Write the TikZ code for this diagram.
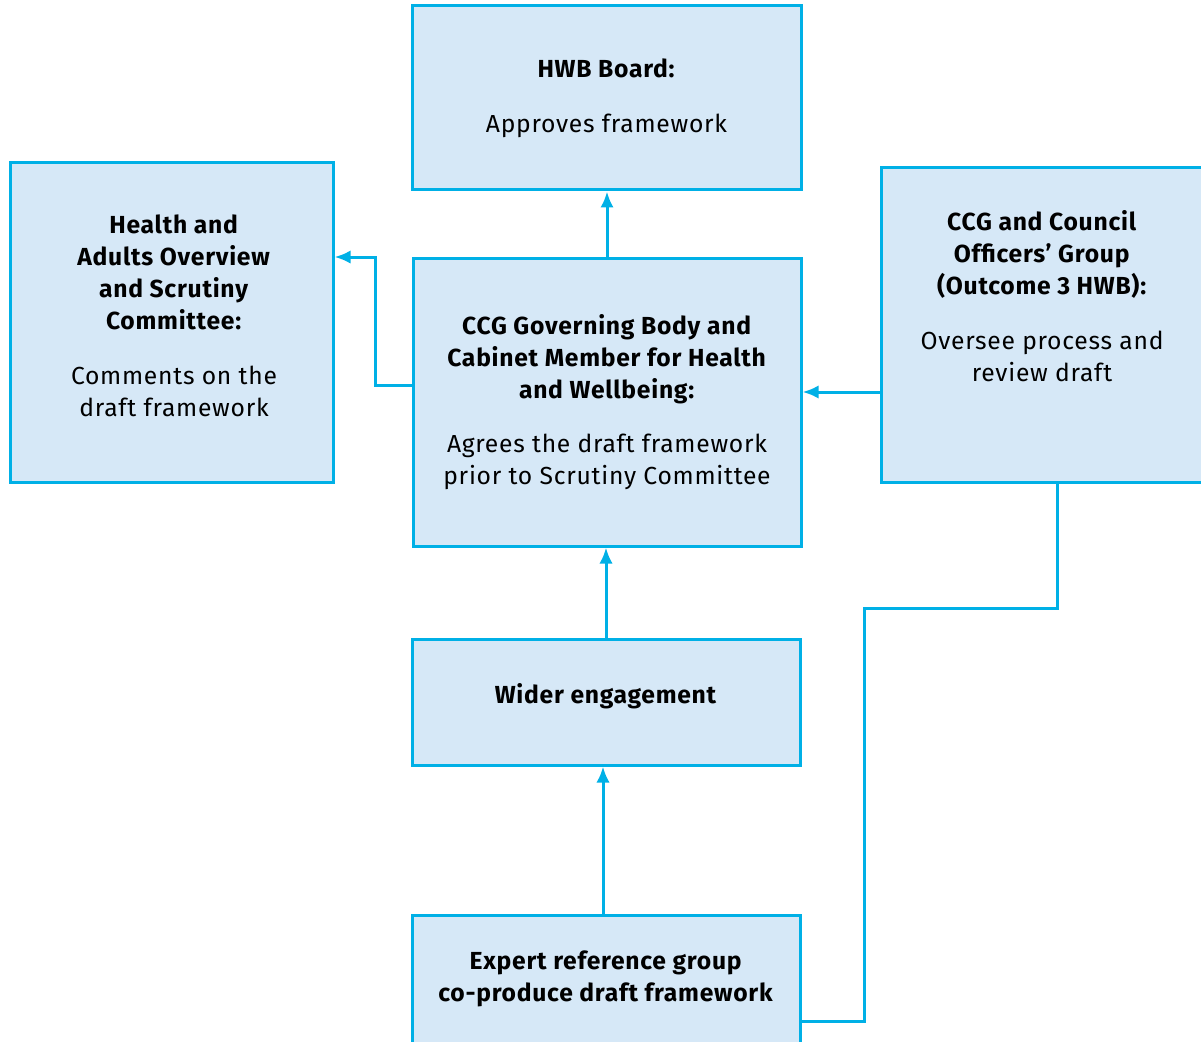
\documentclass[tikz,border=0pt]{standalone}
\usepackage{fontspec}
\setmainfont{Fira Sans}[LetterSpace=3]
\usetikzlibrary{arrows.meta}

\definecolor{lineblue}{HTML}{00B0E6}
\definecolor{boxfill}{HTML}{D6E8F7}

\begin{document}
\begin{tikzpicture}[x=0.75pt, y=-0.75pt, line width=2.25pt,
  box/.style={draw=lineblue, fill=boxfill, inner sep=0pt},
  size/.style 2 args={minimum width=#1*0.75pt, minimum height=#2*0.75pt},
  txt/.style={align=center, font=\fontsize{18.5}{24}\selectfont},
  link/.style={draw=lineblue, -{Latex[length=12pt, width=10pt]}},
  line/.style={draw=lineblue}]

\useasboundingbox (0, 0) rectangle (1201, 1041);

% draw boxes
\node[box, txt, size={389}{184}] (hwb) at (606.5, 98) {\textbf{HWB Board:}\\[17pt]Approves framework};

\node[box, size={323}{319}] (scrutiny) at (171.5, 322.5) {};
\node[txt] (scrutinytext) at (174, 316)
  {\textbf{Health and}\\\textbf{Adults Overview}\\\textbf{and Scrutiny}\\\textbf{Committee:}\\[17pt]Comments on the\\draft framework};

\node[box, txt, size={388}{288}] (gb) at (607, 402)
  {\textbf{CCG Governing Body and}\\\textbf{Cabinet Member for Health}\\\textbf{and Wellbeing:}\\[17pt]Agrees the draft framework\\prior to Scrutiny Committee};

\node[box, size={322}{314}] (officers) at (1042, 325) {};
\node[txt] (officerstext) at (1042, 296)
  {\textbf{CCG and Council}\\\textbf{Officers’ Group}\\\textbf{(Outcome 3 HWB):}\\[17pt]Oversee process and\\review draft};

\node[box, size={388}{126}] (wider) at (606, 702) {};
\node[txt] (widertext) at (606, 696) {\textbf{Wider engagement}};

\node[box, txt, size={388}{128}] (expert) at (606, 979)
  {\textbf{Expert reference group}\\\textbf{co-produce draft framework}};

% draw connectors
\draw[link] (gb.north) -- (gb.north |- hwb.south);
\draw[link] ([yshift=12.75pt]gb.west) -- ++(-36, 0) |- ([yshift=49.1pt]scrutiny.east);
\draw[link] ([yshift=-50.25pt]officers.west) coordinate (o) -- (o -| gb.east);
\draw[link] (wider.north) -- (wider.north |- gb.south);
\draw[link] ([xshift=-2.25pt]expert.north) coordinate (e) -- (e |- wider.south);
\draw[line] ([xshift=11.25pt]officers.south) -- ++(0, 125) -- ++(-193, 0) |- ([yshift=-31.5pt]expert.east);

\end{tikzpicture}
\end{document}
